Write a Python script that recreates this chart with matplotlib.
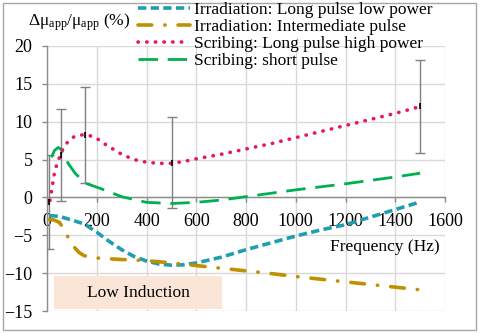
import matplotlib

matplotlib.use('Agg')

import matplotlib.pyplot as plt
from matplotlib.patches import Rectangle

plt.rcParams['font.family'] = ['Liberation Serif', 'DejaVu Serif']
plt.rcParams['mathtext.fontset'] = 'custom'
plt.rcParams['mathtext.rm'] = 'Liberation Serif'

FONT_SIZE = 12.5
TICK_SIZE = 13
AXIS_GRAY = '#8c8c8c'
GRID_GRAY = '#d9d9d9'

# Irradiation: long pulse low power
teal_x = [10, 50, 100, 150, 200, 250, 300, 350, 400, 450, 500, 550, 600,
          700, 800, 900, 1000, 1100, 1200, 1300, 1400, 1500]
teal_y = [-2.4, -2.5, -3.0, -3.5, -4.6, -5.8, -6.9, -7.8, -8.4, -8.8, -8.95,
          -8.9, -8.65, -7.9, -6.9, -6.0, -5.1, -4.3, -3.6, -2.6, -1.6, -0.6]

# Irradiation: intermediate pulse
gold_x = [10, 30, 50, 70, 90, 110, 130, 150, 200, 300, 400, 500, 600, 700,
          800, 900, 1000, 1100, 1200, 1300, 1400, 1500]
gold_y = [-2.9, -3.0, -3.3, -4.3, -5.6, -6.6, -7.3, -7.7, -8.0, -8.2, -8.35,
          -8.65, -9.0, -9.35, -9.7, -10.05, -10.45, -10.8, -11.15, -11.5,
          -11.85, -12.2]

# Scribing: long pulse high power
pink_x = [12, 20, 28, 36, 48, 65, 85, 108, 133, 165, 200, 230, 260, 300,
          350, 400, 450, 500, 550, 600, 700, 800, 900, 1000, 1100, 1200,
          1300, 1400, 1500]
pink_y = [-0.4, 1.2, 2.9, 4.0, 5.1, 6.5, 7.4, 8.0, 8.25, 8.25, 7.8, 7.1, 6.5,
          5.7, 5.0, 4.65, 4.5, 4.5, 4.75, 5.1, 5.7, 6.4, 7.1, 7.9, 8.7, 9.5,
          10.3, 11.1, 12.0]

# Scribing: short pulse
green_x = [18, 30, 45, 55, 65, 85, 113, 153, 213, 253, 300, 400, 500, 600,
           700, 800, 900, 1000, 1100, 1200, 1300, 1400, 1500]
green_y = [5.3, 6.2, 6.6, 6.4, 5.8, 4.5, 3.2, 1.9, 1.2, 0.7, 0.1, -0.65, -0.8,
           -0.65, -0.35, 0.1, 0.55, 1.0, 1.4, 1.8, 2.25, 2.7, 3.2]

# error bars on the long pulse scribing measurements
err_x = [10, 55, 153, 503, 1500]
err_y = [-0.6, 5.6, 8.25, 4.6, 12.05]
err_size = [6.2, 6.1, 6.35, 6.0, 6.15]

labels = [
    'Irradiation: Long pulse low power',
    'Irradiation: Intermediate pulse',
    'Scribing: Long pulse high power',
    'Scribing: short pulse',
]

box_x = [28, 704]
box_y = [-14.8, -10.4]

fig = plt.figure(figsize=(4.8, 3.33), dpi=100)
ax = fig.add_axes([47 / 480, 1 - 311 / 333, 398 / 480, 265 / 333])

ax.add_patch(Rectangle((box_x[0], box_y[0]), box_x[1] - box_x[0],
                       box_y[1] - box_y[0], facecolor='#fbe5d6',
                       edgecolor='none', zorder=1))
ax.text(sum(box_x) / 2, sum(box_y) / 2, 'Low Induction', ha='center',
        va='center', fontsize=FONT_SIZE, zorder=2)

ax.errorbar(err_x, err_y, yerr=err_size, fmt='none', ecolor='#808080',
            elinewidth=1.0, capsize=3.5, capthick=1.0, zorder=3)
ax.plot(err_x, err_y, linestyle='none', marker='|', color='black',
        markersize=5, markeredgewidth=1.2, zorder=6)

ax.plot(teal_x, teal_y, color='#1f9ead', linewidth=2.6, dashes=(2.3, 1.2),
        label=labels[0], zorder=4)
ax.plot(gold_x, gold_y, color='#bf9000', linewidth=2.6,
        dashes=(3.8, 3.6, 0.1, 3.6), dash_capstyle='round',
        label=labels[1], zorder=4)
ax.plot(pink_x, pink_y, color='#e8175d', linewidth=2.6, dashes=(0.1, 2.3),
        dash_capstyle='round', label=labels[2], zorder=5)
ax.plot(green_x, green_y, color='#00b050', linewidth=2.0, dashes=(7, 3.5),
        label=labels[3], zorder=4)

ax.set_xlim(0, 1600)
ax.set_ylim(-15, 20)
ax.set_xticks(range(0, 1601, 200))
ax.set_yticks(range(-15, 21, 5))
ax.grid(True, color=GRID_GRAY, linewidth=1.0, zorder=0)
ax.set_axisbelow(True)

ax.spines['top'].set_visible(False)
ax.spines['right'].set_visible(False)
ax.spines['bottom'].set_position(('data', 0))
for side in ('left', 'bottom'):
    ax.spines[side].set_color(AXIS_GRAY)
    ax.spines[side].set_linewidth(1.0)
ax.tick_params(axis='both', colors=AXIS_GRAY, labelcolor='black',
               labelsize=TICK_SIZE, length=3.5, width=1.0)
ax.tick_params(axis='x', pad=8)
ax.tick_params(axis='y', pad=7)

ax.text(1580, -6.6, 'Frequency (Hz)', ha='right', va='center',
        fontsize=FONT_SIZE)
fig.text(28 / 480, 1 - 22 / 333,
         r'$\mathregular{Δμ_{app}/μ_{app}}$ (%)', ha='left', va='center',
         fontsize=FONT_SIZE)

handles, _ = ax.get_legend_handles_labels()
fig.legend(handles, labels, loc='upper left',
           bbox_to_anchor=(138 / 480, 1 - 2 / 333), frameon=False,
           fontsize=FONT_SIZE, handlelength=3.0, handletextpad=0.2,
           labelspacing=0.05, borderpad=0, borderaxespad=0)

fig.patches.append(Rectangle((3 / 480, 3 / 333), 473 / 480, 327 / 333,
                             transform=fig.transFigure, fill=False,
                             edgecolor='#a6a6a6', linewidth=1.0))

fig.savefig('out.png', dpi=100)
plt.close(fig)
